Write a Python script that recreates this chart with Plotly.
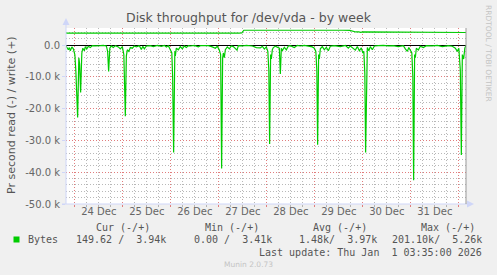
import pandas as pd
import plotly.graph_objects as go

# ---------------- data (hours since 2025-12-24 00:00, values in k bytes/s) ----------------
read_hours = [-4.4, -3.25, -2.75, -2.25, -1.5, -0.75, 0, 0.5, 1.4, 2.0, 2.4, 2.9, 3.5, 4.0, 4.75, 5.25, 6.0,
              6.75, 7.75, 8.75, 10.25, 11.75, 12.75, 14.25, 15.75, 16.4, 16.9, 17.5, 18.25, 19.25, 20.25,
              21.75, 22.75, 23.75, 24.5, 25.25, 25.75, 26.25, 27, 27.75, 28.75, 29.75, 30.75, 32.25, 33.25,
              34, 34.75, 35.75, 37.75, 39.25, 41.25, 43.25, 44.75, 45.75, 46.75, 47.75, 48.5, 48.9, 49.4,
              50, 50.25, 50.75, 51.75, 52.75, 53.75, 54.75, 55.75, 56.75, 57.75, 59.75, 61.75, 62.75, 64.75,
              66.75, 68.75, 70.25, 71.25, 72.25, 72.9, 73.4, 73.9, 74.25, 74.75, 75.25, 76.25, 77.25, 78.25,
              79.25, 81.1, 81.75, 83.75, 85.75, 88.75, 90.75, 92.75, 93.75, 94.75, 95.75, 96.5, 97, 97.4,
              97.9, 98.25, 98.75, 99.25, 100.25, 101.25, 102.25, 102.75, 103.25, 103.75, 104.75, 105.75,
              106.75, 107.75, 109.75, 111.25, 112.75, 114.75, 116.75, 118.75, 119.75, 120.5, 121, 121.4,
              121.9, 122.25, 122.75, 123.75, 124.75, 125.75, 126.75, 127.75, 129.75, 132.75, 135.25, 136.75,
              137.75, 140.25, 141.25, 142.25, 143.25, 144, 144.5, 145, 145.4, 145.9, 146.25, 147, 147.75,
              148.75, 149.75, 151.75, 154.25, 156.75, 159.25, 161.75, 164.25, 165.25, 166.25, 167, 167.75,
              168.5, 169, 169.4, 169.9, 170.25, 170.75, 171.75, 172.75, 174.25, 175.75, 178.75, 181.25,
              183.75, 186.75, 188.75, 190.25, 191.25, 192, 192.75, 193.25, 193.75, 194.4, 195, 195.58]
read_kbytes = [0.3, 1.5, 0.8, 1.8, 0.6, 1.2, 3.0, 8.0, 22.8, 4.0, 6.0, 14.9, 2.5, 1.0, 1.8, 0.5, 1.2,
               0.4, 0.8, 0.2, 0.3, 0.1, 0.2, 0.1, 0.3, 2.0, 8.3, 1.0, 0.3, 0.8, 0.2,
               0.6, 1.2, 0.5, 3.0, 22.4, 3.5, 1.5, 2.0, 0.8, 1.0, 0.3, 0.6, 0.2, 1.4,
               0.4, 1.2, 0.3, 0.2, 0.5, 0.1, 0.4, 0.1, 0.6, 0.2, 1.5, 2.5, 10.0, 33.8,
               2.0, 3.4, 1.0, 1.5, 0.5, 1.2, 0.3, 0.8, 0.2, 0.3, 0.1, 0.6, 0.2, 0.3,
               0.2, 0.6, 1.0, 0.4, 1.6, 3.0, 38.8, 4.1, 2.5, 4.0, 1.5, 0.6, 1.2, 0.3,
               0.5, 1.6, 0.2, 0.3, 0.1, 0.3, 0.8, 0.9, 0.4, 1.3, 0.6, 2.0, 8.0, 31.1,
               3.0, 4.4, 1.5, 0.8, 0.4, 0.6, 1.0, 9.1, 1.0, 1.8, 0.7, 1.5,
               0.3, 0.2, 0.8, 0.1, 0.3, 0.1, 0.4, 0.6, 1.0, 2.0, 8.0, 31.4,
               3.0, 4.4, 1.2, 0.5, 1.5, 0.7, 1.8, 0.4, 0.2, 0.5, 0.1, 1.0,
               0.3, 1.6, 0.5, 1.8, 0.9, 2.5, 2.0, 9.0, 33.8, 2.0, 0.8, 1.8, 0.5,
               1.5, 0.3, 0.2, 0.1, 0.3, 0.2, 0.5, 0.2, 1.2, 2.0, 0.8, 1.8,
               2.5, 10.0, 42.5, 3.0, 4.0, 1.0, 1.6, 0.4, 0.8, 0.2, 0.3, 0.1,
               0.5, 0.2, 0.4, 1.0, 2.0, 1.0, 8.0, 34.6, 3.0, 4.4, 1.0, 0.15]

write_hours = [-4.4, -3.5, -2.5, -2, -1, 0, 1, 2.5, 3, 3.5, 5, 6, 7, 9, 10, 10.5, 12, 14, 15, 17, 18, 18.5,
               21, 22, 23, 25, 26, 26.5, 29, 30, 31, 33, 34, 34.5, 37, 38.5, 39.5, 42, 43, 43.5, 46, 47, 48,
               50, 51, 51.5, 54, 55, 56, 58, 59.5, 60, 63, 64, 65, 67, 68, 68.5, 71, 72, 73, 75, 76.5, 77,
               80, 81, 82, 83.5, 84.5, 86, 88, 89, 92, 94, 94.5, 98, 100, 101, 105, 107, 107.5, 111, 113,
               114, 118, 120, 120.5, 124, 126, 127, 131, 133, 134, 137.5, 139, 140.5, 142, 143, 144, 146,
               148, 149, 152, 154, 155, 158, 160, 161, 164, 166, 167, 170, 172, 173, 176, 178, 179, 182,
               184, 185, 188, 190, 191, 194, 195.58]
write_kbytes = [3.72, 3.72, 3.5, 3.72, 3.72, 3.6, 3.72, 3.72, 3.5, 3.72, 3.72, 3.6, 3.72, 3.72, 3.5, 3.72,
                3.72, 3.6, 3.72, 3.72, 3.55, 3.72, 3.72, 3.6, 3.72, 3.72, 3.55, 3.72, 3.72, 3.6, 3.72,
                3.72, 3.5, 3.72, 3.72, 3.6, 3.72, 3.72, 3.55, 3.72, 3.72, 3.6, 3.72, 3.72, 3.5, 3.72,
                3.72, 3.6, 3.72, 3.72, 3.55, 3.72, 3.72, 3.6, 3.72, 3.72, 3.5, 3.72, 3.72, 3.6, 3.72,
                3.72, 3.55, 3.72, 3.72, 3.6, 3.72, 3.8, 4.65, 4.65, 4.55, 4.65, 4.65, 4.5, 4.65, 4.65,
                4.55, 4.65, 4.65, 4.5, 4.65, 4.65, 4.55, 4.65, 4.65, 4.5, 4.65, 4.65, 4.55, 4.65, 4.65,
                4.55, 4.65, 4.6, 4.3, 4.1, 4.1, 3.95, 4.1, 4.1, 3.95, 4.1, 4.1, 4.0, 4.1, 4.1, 3.95, 4.1,
                4.1, 4.0, 4.1, 4.1, 3.95, 4.1, 4.1, 4.0, 4.1, 4.1, 3.95, 4.1, 4.1, 4.0, 4.1, 4.1, 3.94]

day_labels = ["24 Dec", "25 Dec", "26 Dec", "27 Dec", "28 Dec", "29 Dec", "30 Dec", "31 Dec"]
y_tick_vals = [0, -10000, -20000, -30000, -40000, -50000]
y_tick_text = ["0.0", "-10.0 k", "-20.0 k", "-30.0 k", "-40.0 k", "-50.0 k"]

legend_name = "Bytes"
legend_headers = ["Cur (-/+)", "Min (-/+)", "Avg (-/+)", "Max (-/+)"]
legend_values = ["149.62 /  3.94k", "0.00 /  3.41k", "1.48k/  3.97k", "201.10k/  5.26k"]
last_update = "Last update: Thu Jan  1 03:35:00 2026"
title = "Disk throughput for /dev/vda - by week"
y_title = "Pr second read (-) / write (+)"
watermark = "RRDTOOL / TOBI OETIKER"
footer = "Munin 2.0.73"

# ---------------- build ----------------
base = pd.Timestamp("2025-12-24 00:00")
t_start = pd.Timestamp("2025-12-23 19:35")
t_end = pd.Timestamp("2026-01-01 03:35")
read_t = [base + pd.Timedelta(hours=h) for h in read_hours]
write_t = [base + pd.Timedelta(hours=h) for h in write_hours]
read_neg = [-v * 1000 for v in read_kbytes]
write_v = [v * 1000 for v in write_kbytes]
midnights = [base + pd.Timedelta(days=i) for i in range(9)]
noons = [base + pd.Timedelta(days=i, hours=12) for i in range(len(day_labels))]

GREEN = "#00CC00"
FONT = "DejaVu Sans"
MONO = "DejaVu Sans Mono"
AXIS = "#CFD6F8"
MGRID = "rgba(235,110,110,0.8)"
GRID = "rgba(160,160,160,0.75)"

W, H = 497, 275
L, T, PW, PH = 66, 28, 400, 176


def px(x):
    return (x - L) / PW


def py(y):
    return (T + PH - y) / PH


fig = go.Figure()
fig.add_trace(go.Scatter(x=read_t, y=read_neg, mode="lines", line=dict(color=GREEN, width=1.2),
                         showlegend=False, hoverinfo="skip"))
fig.add_trace(go.Scatter(x=write_t, y=write_v, mode="lines", line=dict(color=GREEN, width=1.2),
                         showlegend=False, hoverinfo="skip"))
fig.add_trace(go.Scatter(x=[t_start, t_end], y=[None, None], xaxis="x2", mode="lines",
                         showlegend=False, hoverinfo="skip"))

fig.update_layout(
    width=W, height=H,
    margin=dict(l=L, r=W - L - PW, t=T, b=H - T - PH, pad=0),
    paper_bgcolor="#F0F0F0", plot_bgcolor="#FFFFFF",
    font=dict(family=FONT, size=10, color="#666666"),
    showlegend=False,
    xaxis=dict(type="date", range=[t_start, t_end], tickmode="array", tickvals=midnights,
               showticklabels=False, showgrid=True, gridcolor=MGRID, griddash="1px,2px", gridwidth=1,
               ticks="outside", ticklen=2, tickcolor=MGRID, zeroline=False, showline=False,
               minor=dict(dtick=6 * 3600 * 1000, tick0=base, showgrid=True, gridcolor=GRID,
                          griddash="1px,2px", ticks="outside", ticklen=2, tickcolor=GRID)),
    xaxis2=dict(type="date", range=[t_start, t_end], overlaying="x", anchor="y", side="bottom",
                tickmode="array", tickvals=noons, ticktext=day_labels, showgrid=False, ticks="",
                ticklen=0, tickfont=dict(family=FONT, size=10, color="#666666"), zeroline=False,
                showline=False),
    yaxis=dict(range=[-50000, 5350], tickmode="array", tickvals=y_tick_vals, ticktext=y_tick_text,
               showgrid=True, gridcolor=MGRID, griddash="1px,2px", gridwidth=1,
               ticks="outside", ticklen=3, tickcolor=AXIS,
               tickfont=dict(family=FONT, size=10, color="#666666"),
               zeroline=True, zerolinecolor="#000000", zerolinewidth=1, showline=False,
               minor=dict(dtick=2000, tick0=0, showgrid=True, gridcolor=GRID, griddash="1px,2px")),
)

shapes = []
# axis lines with arrows
shapes.append(dict(type="line", xref="paper", yref="paper", x0=px(66), x1=px(66), y0=py(204), y1=py(22),
                   line=dict(color=AXIS, width=1)))
shapes.append(dict(type="line", xref="paper", yref="paper", x0=px(62), x1=px(470), y0=py(204), y1=py(204),
                   line=dict(color=AXIS, width=1)))
shapes.append(dict(type="path", xref="paper", yref="paper",
                   path=f"M {px(62.5)} {py(25)} L {px(69.5)} {py(25)} L {px(66)} {py(18)} Z",
                   fillcolor=AXIS, line=dict(width=0)))
shapes.append(dict(type="path", xref="paper", yref="paper",
                   path=f"M {px(467)} {py(200.5)} L {px(467)} {py(207.5)} L {px(474)} {py(204)} Z",
                   fillcolor=AXIS, line=dict(width=0)))
# right edge line (current time)
shapes.append(dict(type="line", xref="paper", yref="paper", x0=1, x1=1, y0=0, y1=1,
                   line=dict(color="#999999", width=1)))
# legend colour box
shapes.append(dict(type="rect", xref="paper", yref="paper", x0=px(13.5), x1=px(19.5), y0=py(242.5),
                   y1=py(236.5), fillcolor=GREEN, line=dict(width=0)))
fig.update_layout(shapes=shapes)

ann = []


def add_text(text, x, y, xanchor="left", size=10, color="#666666", family=FONT, angle=0):
    ann.append(dict(text=text.replace(" ", "\u00a0"), x=px(x), y=py(y), xref="paper", yref="paper",
                    xanchor=xanchor, yanchor="middle", showarrow=False, textangle=angle,
                    font=dict(family=family, size=size, color=color), borderpad=0))


add_text(title, 248.5, 17, xanchor="center", size=12.5, color="#555555")
add_text(y_title, 12, 115, xanchor="center", size=11, color="#555555", angle=-90)
add_text(watermark, 489, 53, xanchor="center", size=7.5, color="#C4C4C4", angle=90)
header_right = [151, 260, 368, 476]
value_right = [167, 273, 378, 483]
for h, xr in zip(legend_headers, header_right):
    add_text(h, xr, 227.5, xanchor="right", family=MONO, color="#555555")
for v, xr in zip(legend_values, value_right):
    add_text(v, xr, 239.5, xanchor="right", family=MONO, color="#555555")
add_text(legend_name, 27, 239.5, xanchor="left", family=MONO, color="#555555")
add_text(last_update, 483, 252, xanchor="right", family=MONO, color="#555555")
add_text(footer, 248, 264, xanchor="center", size=7.5, color="#C4C4C4")
fig.update_layout(annotations=ann)

fig.write_html("out.html", config={"displayModeBar": False})
